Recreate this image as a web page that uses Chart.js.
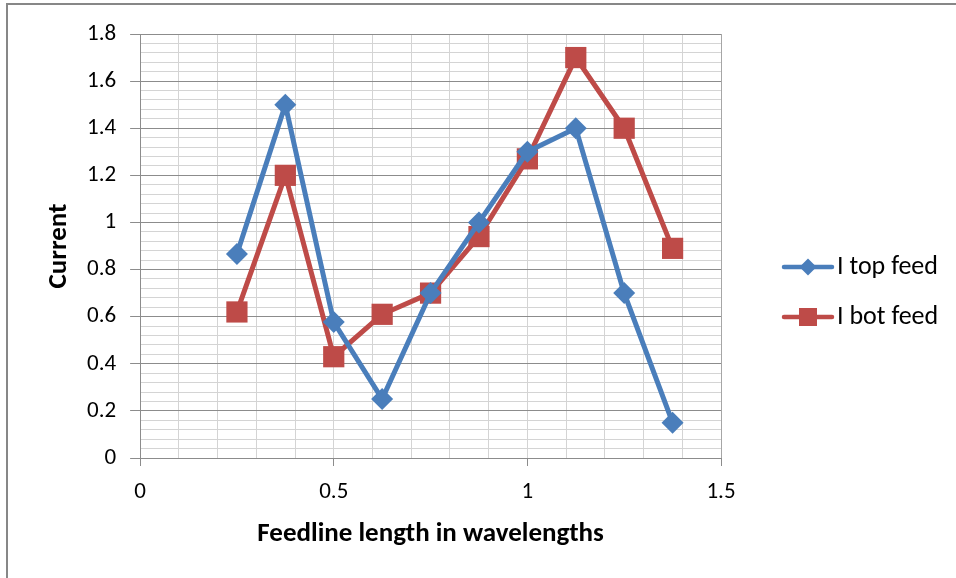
<!DOCTYPE html>
<html>
<head>
<meta charset="utf-8">
<script src="https://cdn.jsdelivr.net/npm/chart.js@4/dist/chart.umd.min.js"></script>
<style>
  html, body { margin: 0; padding: 0; background: #fff; }
  #wrap { width: 956px; height: 578px; }
</style>
</head>
<body>
<div id="wrap"><canvas id="currentChart" width="956" height="578"></canvas></div>
<script>
// feedline length (wavelengths) and measured currents
const wavelengths = [0.25, 0.375, 0.5, 0.625, 0.75, 0.875, 1.0, 1.125, 1.25, 1.375];
const topFeed = [0.866, 1.5, 0.577, 0.25, 0.7, 1.0, 1.3, 1.4, 0.7, 0.15];
const botFeed = [0.62, 1.2, 0.43, 0.61, 0.7, 0.94, 1.27, 1.7, 1.4, 0.89];
const seriesLabels = ['I top feed', 'I bot feed'];

const xTickLabels = ['0', '0.5', '1', '1.5'];
const yTickLabels = ['0', '0.2', '0.4', '0.6', '0.8', '1', '1.2', '1.4', '1.6', '1.8'];

const blue = '#4a7ebb';
const red = '#be4b48';
const fontFamily = 'Carlito, Calibri, Lato, "Liberation Sans", sans-serif';
const majorGrid = '#8c8c8c';
const minorGrid = '#d4d4d4';

function isMultiple(v, step) {
  return Math.abs(v / step - Math.round(v / step)) < 1e-6;
}

function labelFor(v, step, labels) {
  return isMultiple(v, step) ? labels[Math.round(v / step)] : '';
}

// legend symbol: short line with the marker in the middle (4px blank on the left)
function makeSwatch(color, shape) {
  const c = document.createElement('canvas');
  c.width = 58; c.height = 24;
  const g = c.getContext('2d');
  g.translate(4, 0);
  g.strokeStyle = color;
  g.lineWidth = 4.5;
  g.lineCap = 'round';
  g.beginPath(); g.moveTo(3, 12); g.lineTo(51, 12); g.stroke();
  g.fillStyle = color;
  g.beginPath();
  if (shape === 'diamond') {
    g.moveTo(27, 3.5); g.lineTo(35.5, 12); g.lineTo(27, 20.5); g.lineTo(18.5, 12);
  } else {
    g.rect(18, 3, 18, 18);
  }
  g.closePath(); g.fill();
  return c;
}
const swatches = [makeSwatch(blue, 'diamond'), makeSwatch(red, 'square')];

const framePlugin = {
  id: 'frame',
  beforeDraw(chart) {
    const ctx = chart.ctx;
    ctx.save();
    ctx.strokeStyle = '#878787';
    ctx.lineWidth = 2;
    ctx.beginPath();
    ctx.moveTo(7, 578); ctx.lineTo(7, 4); ctx.lineTo(956, 4);
    ctx.stroke();
    ctx.restore();
  }
};

const ctx = document.getElementById('currentChart').getContext('2d');
const currentChart = new Chart(ctx, {
  type: 'scatter',
  data: {
    datasets: [
      {
        label: seriesLabels[0],
        data: wavelengths.map((x, i) => ({x: x, y: topFeed[i]})),
        showLine: true,
        borderColor: blue,
        backgroundColor: blue,
        borderWidth: 5,
        pointStyle: 'rectRot',
        pointRadius: 11,
        pointHoverRadius: 11,
        pointBorderWidth: 0
      },
      {
        label: seriesLabels[1],
        data: wavelengths.map((x, i) => ({x: x, y: botFeed[i]})),
        showLine: true,
        borderColor: red,
        backgroundColor: red,
        borderWidth: 5,
        pointStyle: 'rect',
        pointRadius: 15,
        pointHoverRadius: 15,
        pointBorderWidth: 0
      }
    ]
  },
  options: {
    responsive: false,
    animation: false,
    layout: {padding: {left: 30, top: 34, right: 12, bottom: 28}},
    plugins: {
      tooltip: {enabled: false},
      legend: {
        position: 'right',
        maxWidth: 180,
        labels: {
          usePointStyle: true,
          pointStyleWidth: 36,
          padding: 24,
          color: '#000',
          font: {family: fontFamily, size: 26},
          generateLabels(chart) {
            return Chart.defaults.plugins.legend.labels.generateLabels(chart).map((item, i) => {
              item.pointStyle = swatches[i];
              return item;
            });
          }
        }
      }
    },
    scales: {
      x: {
        type: 'linear',
        min: 0,
        max: 1.5,
        afterBuildTicks(scale) {
          scale.ticks = Array.from({length: 16}, (_, i) => ({value: +(i * 0.1).toFixed(1)}));
        },
        ticks: {
          autoSkip: false,
          maxRotation: 0,
          padding: 12,
          color: '#000',
          font: {family: fontFamily, size: 23},
          callback: v => labelFor(v, 0.5, xTickLabels)
        },
        grid: {
          color: c => (c.tick && (c.tick.value === 1.5) ? '#a6a6a6' : minorGrid),
          tickLength: 8,
          tickColor: c => (c.tick && isMultiple(c.tick.value, 0.5) ? majorGrid : 'rgba(0,0,0,0)')
        },
        border: {color: majorGrid, width: 1},
        title: {
          display: true,
          text: 'Feedline length in wavelengths',
          color: '#000',
          font: {family: fontFamily, size: 27, weight: 'bold'},
          padding: {top: 0, bottom: 0}
        }
      },
      y: {
        type: 'linear',
        min: 0,
        max: 1.8,
        afterBuildTicks(scale) {
          scale.ticks = Array.from({length: 46}, (_, i) => ({value: +(i * 0.04).toFixed(2)}));
        },
        ticks: {
          autoSkip: false,
          padding: 14,
          color: '#000',
          font: {family: fontFamily, size: 23},
          callback: v => labelFor(v, 0.2, yTickLabels)
        },
        grid: {
          color: c => (c.tick && isMultiple(c.tick.value, 0.2) ? majorGrid : minorGrid),
          tickLength: 10,
          tickColor: c => (c.tick && isMultiple(c.tick.value, 0.2) ? majorGrid : 'rgba(0,0,0,0)')
        },
        border: {color: majorGrid, width: 1},
        title: {
          display: true,
          text: 'Current',
          color: '#000',
          font: {family: fontFamily, size: 27, weight: 'bold', lineHeight: 1},
          padding: {top: 16, bottom: 0}
        }
      },
      gap: {
        type: 'linear',
        position: 'right',
        display: true,
        ticks: {display: false},
        grid: {display: false},
        border: {display: false},
        afterFit(scale) { scale.width = 43; }
      }
    }
  },
  plugins: [framePlugin]
});
</script>
</body>
</html>
